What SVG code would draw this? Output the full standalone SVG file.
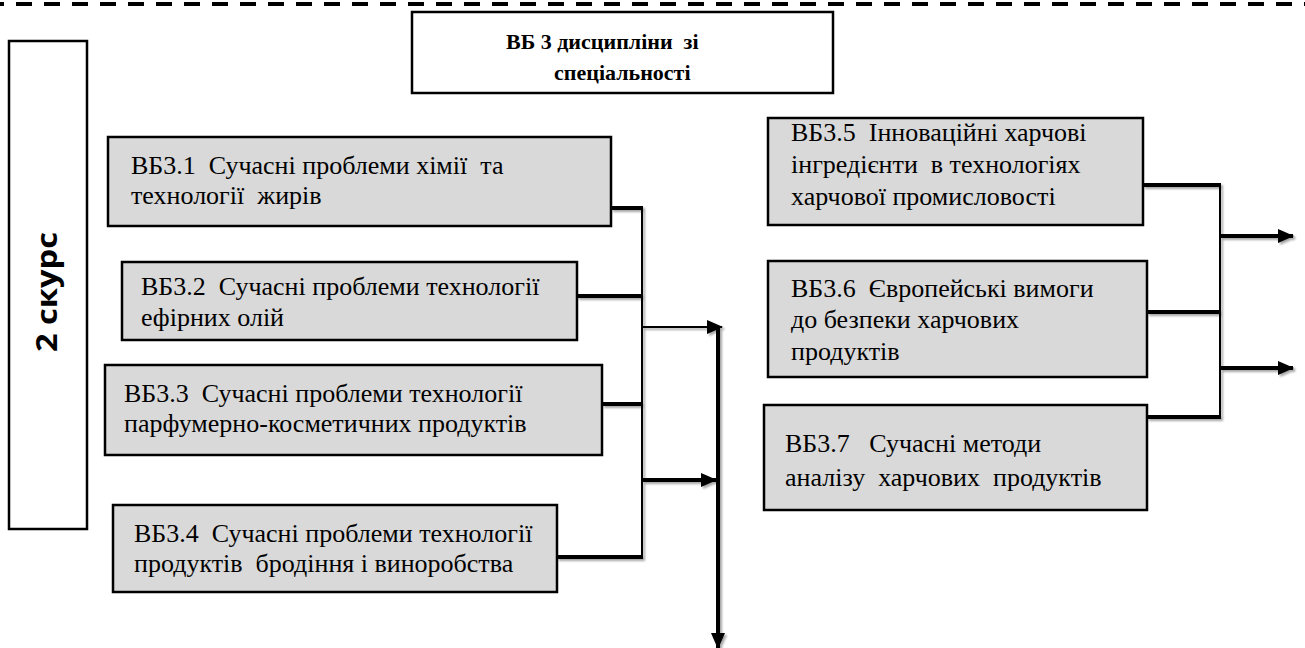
<svg xmlns="http://www.w3.org/2000/svg" width="1305" height="648" viewBox="0 0 1305 648">
<style>
.box{fill:#d9d9d9;stroke:#000;stroke-width:2.5}
.wbox{fill:#fff;stroke:#000;stroke-width:2.5}
.t{font-family:"Liberation Serif","Times New Roman",serif;font-size:26px;fill:#000}
.tb{font-family:"Liberation Serif","Times New Roman",serif;font-size:22px;font-weight:bold;fill:#000}
.side{font-family:"Open Sans","DejaVu Sans",sans-serif;font-size:29px;font-weight:bold;fill:#000}
.thick{stroke:#000;stroke-width:4;fill:none}
.thin{stroke:#000;stroke-width:2;fill:none}
</style>
<defs>
<filter id="sh" x="-20%" y="-20%" width="140%" height="140%">
<feDropShadow dx="2" dy="2" stdDeviation="1.2" flood-color="#000" flood-opacity="0.35"/>
</filter>
<marker id="ah" markerUnits="userSpaceOnUse" markerWidth="16" markerHeight="14" refX="15" refY="7" orient="auto">
<path d="M0,0 L16,7 L0,14 Z" fill="#000"/>
</marker>
</defs>

<g id="frame">
<line x1="0" y1="4" x2="1305" y2="4" stroke="#000" stroke-width="4" stroke-dasharray="16 12" stroke-dashoffset="12"/>
<line x1="1295" y1="0" x2="1295" y2="648" class="thin" filter="url(#sh)"/>
</g>

<g id="course">
<rect class="wbox" x="9" y="41" width="78" height="488"/>
<text class="side" transform="translate(57,292) rotate(-90)" text-anchor="middle" textLength="120" lengthAdjust="spacingAndGlyphs">2 скурс</text>
</g>

<g id="title">
<rect class="wbox" x="412" y="12" width="421" height="81"/>
<text class="tb" x="506" y="49" xml:space="preserve">ВБ 3 дисципліни  зі</text>
<text class="tb" x="554" y="80">спеціальності</text>
</g>

<g id="vb31">
<rect class="box" x="108" y="137" width="503" height="89"/>
<text class="t" x="131" y="174" xml:space="preserve">ВБ3.1  Сучасні проблеми хімії  та</text>
<text class="t" x="131" y="204" xml:space="preserve">технології  жирів</text>
</g>

<g id="vb32">
<rect class="box" x="122" y="262" width="455" height="78"/>
<text class="t" x="141" y="295" xml:space="preserve">ВБ3.2  Сучасні проблеми технології</text>
<text class="t" x="141" y="326">ефірних олій</text>
</g>

<g id="vb33">
<rect class="box" x="105" y="365" width="497" height="90"/>
<text class="t" x="124" y="402" xml:space="preserve">ВБ3.3  Сучасні проблеми технології</text>
<text class="t" x="124" y="432">парфумерно-косметичних продуктів</text>
</g>

<g id="vb34">
<rect class="box" x="113" y="505" width="444" height="87"/>
<text class="t" x="134" y="542" xml:space="preserve">ВБ3.4  Сучасні проблеми технології</text>
<text class="t" x="134" y="572" xml:space="preserve">продуктів  бродіння і виноробства</text>
</g>

<g id="vb35">
<rect class="box" x="768" y="118" width="375" height="107"/>
<text class="t" x="791" y="141" xml:space="preserve">ВБ3.5  Інноваційні харчові</text>
<text class="t" x="791" y="173" xml:space="preserve">інгредієнти  в технологіях</text>
<text class="t" x="791" y="205">харчової промисловості</text>
</g>

<g id="vb36">
<rect class="box" x="768" y="261" width="379" height="116"/>
<text class="t" x="791" y="297" xml:space="preserve">ВБ3.6  Європейські вимоги</text>
<text class="t" x="791" y="328">до безпеки харчових</text>
<text class="t" x="791" y="360">продуктів</text>
</g>

<g id="vb37">
<rect class="box" x="764" y="405" width="383" height="105"/>
<text class="t" x="785" y="452" xml:space="preserve">ВБ3.7   Сучасні методи</text>
<text class="t" x="785" y="486" xml:space="preserve">аналізу  харчових  продуктів</text>
</g>

<g id="connectors" filter="url(#sh)">
<line class="thick" x1="611" y1="208" x2="643" y2="208"/>
<line class="thick" x1="577" y1="296" x2="643" y2="296"/>
<line class="thick" x1="602" y1="404" x2="643" y2="404"/>
<line class="thick" x1="557" y1="557" x2="643" y2="557"/>
<line class="thin" x1="642" y1="207" x2="642" y2="559"/>
<line class="thin" x1="642" y1="327" x2="722" y2="327" marker-end="url(#ah)"/>
<line class="thick" x1="642" y1="480" x2="716" y2="480" marker-end="url(#ah)"/>
<line class="thick" x1="718" y1="327" x2="718" y2="648" marker-end="url(#ah)"/>
<line class="thick" x1="1143" y1="185" x2="1221" y2="185"/>
<line class="thick" x1="1147" y1="312" x2="1221" y2="312"/>
<line class="thick" x1="1147" y1="417" x2="1221" y2="417"/>
<line class="thin" x1="1220" y1="184" x2="1220" y2="419"/>
<line class="thick" x1="1220" y1="236" x2="1293" y2="236" marker-end="url(#ah)"/>
<line class="thick" x1="1220" y1="368" x2="1293" y2="368" marker-end="url(#ah)"/>
</g>
</svg>
